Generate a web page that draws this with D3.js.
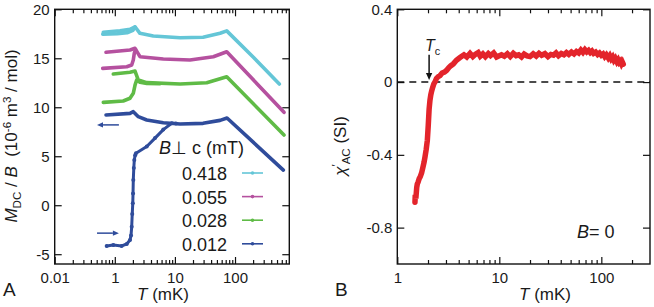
<!DOCTYPE html>
<html>
<head>
<meta charset="utf-8">
<script src="https://cdn.jsdelivr.net/npm/d3@7"></script>
<style>
  html, body { margin: 0; padding: 0; background: #fff; }
  svg { display: block; font-family: "Liberation Sans", Arial, Helvetica, sans-serif; }
  .tick text { font-size: 15px; font-family: "Liberation Sans", Arial, sans-serif; fill: #1a1a1a; }
  .tick line { stroke: #111; stroke-width: 1.2; }
</style>
</head>
<body>
<svg id="chart" width="654" height="307"></svg>
<script>
/* Two panels: A = M_DC/B vs T for four fields, B = chi'_AC vs T at B = 0 */

// --- Panel A data: [T (mK), M_DC/B (1e-6 m3/mol)] ---
const fieldLabels = ["0.418", "0.055", "0.028", "0.012"];
const fieldColors = ["#64c6d7", "#b5519f", "#5fbb46", "#2f4c9b"];

const fc418 = [[0.644,17.65],[1.22,17.81],[1.79,17.95],[2.17,18.22],[2.62,17.55],[4.37,17.27],[12.2,17.1],[29.4,17.14],[56.4,17.55],[72.8,17.8],[202,15.1],[546,12.37]];
const zfc418 = [[0.63,17.45],[1.1,17.5],[1.6,17.6],[2.0,17.85],[2.17,18.2]];

const fc055 = [[0.714,15.61],[1.79,15.84],[2.17,16.02],[2.62,15.16],[6.41,14.93],[17.8,14.83],[43.6,15.16],[72.8,15.67],[653,9.48]];
const zfc055 = [[0.629,13.97],[1.58,14.14],[1.91,14.31],[2.03,14.82],[2.11,15.51],[2.21,15.9]];

const fc028 = [[0.944,13.39],[1.79,13.57],[2.17,13.7],[2.46,12.78],[3.4,12.51],[12.2,12.37],[33.8,12.51],[72.8,13.12],[653,7.17]];
const zfc028 = [[0.644,10.5],[1.38,10.64],[1.79,10.92],[2.03,11.42],[2.17,12.26],[2.31,12.78],[2.62,12.55],[3.4,12.44],[5.65,12.4]];

const fc012 = [[0.714,9.21],[1.79,9.38],[2.03,9.55],[2.46,9.04],[3.4,8.7],[6.41,8.42],[12.2,8.29],[29.4,8.36],[56.4,8.66],[73.6,8.9],[637,3.59]];
const zfc012 = [[0.733,-4.16],[0.944,-4.06],[1.3,-4.16],[1.58,-3.96],[1.79,-3.55],[1.86,-3.1],[1.91,-2.2],[1.95,-0.9],[1.99,0.19],[2.01,1.2],[2.03,2.57],[2.07,3.8],[2.11,4.61],[2.18,5.1],[2.25,5.31],[3.4,5.99],[4.67,6.85],[6.41,7.72],[8.85,8.36],[10.4,8.33]];

// draw order and colour index of each branch
const branchesA = [
    { data: zfc418, c: 0 }, { data: fc418, c: 0 },
    { data: zfc055, c: 1 }, { data: fc055, c: 1 },
    { data: zfc028, c: 2 }, { data: fc028, c: 2 },
    { data: fc012, c: 3 }, { data: zfc012, c: 3, dots: true }
];

// cooling / warming arrows, [T from, T to, M/B]
const arrowsA = [[1.17, 0.506, 8.2], [0.506, 1.17, -2.85]];

const xTickValsA = [0.1, 1, 10, 100];
const xTickLabelsA = ["0.01", "1", "10", "100"];
const yTicksA = [-5, 0, 5, 10, 15, 20];

// --- Panel B data: chi'_AC (SI) vs T (mK) ---
const chiT = [1.49,1.5,1.52,1.55,1.57,1.6,1.64,1.68,1.73,1.78,1.83,1.87,1.92,1.97,2.01,2.05,2.09,2.13,2.17,2.22,2.28,2.34,2.42,2.52,2.62,2.75,2.9,3.05,3.2,3.35,3.54,3.8,4.12,4.5,4.8,5.16,5.5,5.8,6.2,6.5,6.9,7.3,7.8,8.2,8.8,9.4,10.5,11.2,12,12.8,13.7,14.6,15.5,16.5,17.5,18.7,20,21.5,23,24.5,26,28,30,32,34,36,38,40.5,43,45.5,48,51,54,57,60,63,66,69,72,75,78,81,84,88,92,96,100,104,108,112,117,121,125,129,133,137,142,146,150,154,158,161,164];
const chiVal = [-0.66,-0.62,-0.64,-0.58,-0.56,-0.55,-0.53,-0.52,-0.5,-0.47,-0.44,-0.41,-0.37,-0.32,-0.24,-0.15,-0.1,-0.07,-0.05,-0.03,-0.01,0,0.02,0.03,0.035,0.05,0.055,0.065,0.08,0.09,0.1,0.12,0.135,0.15,0.138,0.158,0.14,0.152,0.162,0.142,0.155,0.14,0.157,0.146,0.16,0.138,0.15,0.142,0.156,0.14,0.158,0.145,0.15,0.138,0.154,0.144,0.14,0.155,0.143,0.158,0.147,0.156,0.14,0.152,0.148,0.16,0.145,0.157,0.15,0.162,0.152,0.165,0.155,0.168,0.16,0.176,0.163,0.178,0.166,0.174,0.162,0.17,0.158,0.165,0.152,0.16,0.148,0.155,0.14,0.15,0.133,0.145,0.128,0.138,0.12,0.13,0.112,0.122,0.108,0.115,0.1,0.108,0.098];

const xTickValsB = [1, 10, 100];
const xTickLabelsB = ["1", "10", "100"];
const yTicksB = [-0.8, -0.4, 0, 0.4];
const tcArrow = [2.05, 0.15, 0.012];   // T, chi start, chi tip

// --- Scales ---
const xA = d3.scaleLog().domain([0.1, 800]).range([54.7, 289.3]);
const yA = d3.scaleLinear().domain([-6, 20]).range([264, 9.3]);
const xB = d3.scaleLog().domain([1, 300]).range([397.3, 650]);
const yB = d3.scaleLinear().domain([-1.0, 0.4]).range([264, 9.3]);

const svg = d3.select('#chart');

// --- Helpers ---
function minorTicks(x) {
    const [lo, hi] = x.domain();
    const out = [];
    for (let d = Math.pow(10, Math.floor(Math.log10(lo))); d < hi; d *= 10) {
        for (let k = 2; k <= 9; k++) {
            const v = d * k;
            if (v > lo && v < hi) out.push(v);
        }
    }
    return out;
}

function drawFrame(g, x, y, xVals, xLabels, yVals, yFmt) {
    const [xl, xr] = x.range();
    const [yb, yt] = y.range();
    const minor = minorTicks(x);

    g.append('g').attr('transform', `translate(0,${yb})`)
        .call(d3.axisBottom(x).tickValues(xVals).tickSize(-7).tickPadding(8).tickFormat((d, i) => xLabels[i]));
    g.append('g').attr('transform', `translate(0,${yb})`)
        .call(d3.axisBottom(x).tickValues(minor).tickSize(-4).tickFormat(''));
    g.append('g').attr('transform', `translate(0,${yt})`)
        .call(d3.axisTop(x).tickValues(xVals).tickSize(-7).tickFormat(''));
    g.append('g').attr('transform', `translate(0,${yt})`)
        .call(d3.axisTop(x).tickValues(minor).tickSize(-4).tickFormat(''));
    g.append('g').attr('transform', `translate(${xl},0)`)
        .call(d3.axisLeft(y).tickValues(yVals).tickSize(-7).tickPadding(5).tickFormat(yFmt));
    g.append('g').attr('transform', `translate(${xr},0)`)
        .call(d3.axisRight(y).tickValues(yVals).tickSize(-7).tickFormat(''));
    g.selectAll('.domain').remove();

    g.append('rect')
        .attr('x', xl).attr('y', yt)
        .attr('width', xr - xl).attr('height', yb - yt)
        .attr('fill', 'none').attr('stroke', '#111').attr('stroke-width', 1.4);
}

// parts: [text, style] where style is 'i' italic, 'sub', 'sup' or ''
function richText(sel, parts) {
    let shift = 0;
    parts.forEach(([t, s]) => {
        const ts = sel.append('tspan').text(t);
        let target = 0;
        if (s === 'sub') target = 4;
        if (s === 'sup') target = -6;
        if (s === 'sub' || s === 'sup') ts.attr('font-size', '0.68em');
        if (s === 'i') ts.attr('font-style', 'italic');
        if (target !== shift) { ts.attr('dy', target - shift); shift = target; }
    });
    return sel;
}

function arrow(g, x0, y0, x1, y1, color, head) {
    const ang = Math.atan2(y1 - y0, x1 - x0);
    const bx = x1 - head * Math.cos(ang), by = y1 - head * Math.sin(ang);
    const w = head * 0.45;
    g.append('line')
        .attr('x1', x0).attr('y1', y0).attr('x2', bx).attr('y2', by)
        .attr('stroke', color).attr('stroke-width', 1.5);
    g.append('path')
        .attr('d', `M${x1},${y1}L${bx - w * Math.sin(ang)},${by + w * Math.cos(ang)}L${bx + w * Math.sin(ang)},${by - w * Math.cos(ang)}Z`)
        .attr('fill', color);
}

// --- Panel A ---
const gA = svg.append('g');
drawFrame(gA, xA, yA, xTickValsA, xTickLabelsA, yTicksA, d => String(d));

const lineA = d3.line().x(d => xA(d[0])).y(d => yA(d[1]));

branchesA.forEach(b => {
    gA.append('path')
        .attr('d', lineA(b.data))
        .attr('fill', 'none')
        .attr('stroke', fieldColors[b.c])
        .attr('stroke-width', b.dots ? 3 : 3.6)
        .attr('stroke-linejoin', 'round')
        .attr('stroke-linecap', 'round');
    if (b.dots) {
        gA.append('g').selectAll('circle')
            .data(b.data)
            .join('circle')
            .attr('cx', d => xA(d[0]))
            .attr('cy', d => yA(d[1]))
            .attr('r', 2)
            .attr('fill', fieldColors[b.c]);
    }
});

arrowsA.forEach(([t0, t1, m]) => arrow(gA, xA(t0), yA(m), xA(t1), yA(m), fieldColors[3], 6));

// legend
const leg = gA.append('g').attr('font-size', 18).attr('fill', '#1a1a1a');
richText(leg.append('text').attr('x', 159).attr('y', 154), [['B', 'i'], ['\u22A5 c (mT)', '']]);
fieldLabels.forEach((lab, i) => {
    const yy = 173 + i * 23.6;
    leg.append('text').attr('x', 227).attr('y', yy + 7).attr('text-anchor', 'end').text(lab);
    leg.append('line')
        .attr('x1', 242).attr('x2', 263).attr('y1', yy).attr('y2', yy)
        .attr('stroke', fieldColors[i]).attr('stroke-width', 1.6);
    leg.append('circle').attr('cx', 252.5).attr('cy', yy).attr('r', 1.8).attr('fill', fieldColors[i]);
});

// axis titles
richText(svg.append('text')
    .attr('transform', 'translate(17,136) rotate(-90)')
    .attr('text-anchor', 'middle').attr('font-size', 17).attr('fill', '#1a1a1a'),
    [['M', 'i'], ['DC', 'sub'], [' / ', ''], ['B', 'i'], ['\u00A0 (10', ''], ['-6', 'sup'], [' m', ''], ['3', 'sup'], [' / mol)', '']]);

richText(svg.append('text').attr('x', 163).attr('y', 300)
    .attr('text-anchor', 'middle').attr('font-size', 17).attr('fill', '#1a1a1a'),
    [['T', 'i'], [' (mK)', '']]);

svg.append('text').attr('x', 3).attr('y', 296).attr('font-size', 19).attr('fill', '#1a1a1a').text('A');

// --- Panel B ---
const gB = svg.append('g');
drawFrame(gB, xB, yB, xTickValsB, xTickLabelsB, yTicksB, d => String(d));

gB.append('line')
    .attr('x1', xB.range()[0]).attr('x2', xB.range()[1])
    .attr('y1', yB(0)).attr('y2', yB(0))
    .attr('stroke', '#111').attr('stroke-width', 1.4)
    .attr('stroke-dasharray', '7,5');

const lineB = d3.line().x((d, i) => xB(chiT[i])).y(d => yB(d));
gB.append('path')
    .attr('d', lineB(chiVal))
    .attr('fill', 'none')
    .attr('stroke', '#e3242b')
    .attr('stroke-width', 5.5)
    .attr('stroke-linejoin', 'miter')
    .attr('stroke-linecap', 'round');

// Tc marker
arrow(gB, xB(tcArrow[0]), yB(tcArrow[1]), xB(tcArrow[0]), yB(tcArrow[2]), '#111', 7);
richText(gB.append('text').attr('x', 425).attr('y', 51).attr('font-size', 16).attr('fill', '#1a1a1a'),
    [['T', 'i'], ['c', 'sub']]);

richText(gB.append('text').attr('x', 577).attr('y', 238).attr('font-size', 18).attr('fill', '#1a1a1a'),
    [['B', 'i'], ['= 0', '']]);

richText(svg.append('text')
    .attr('transform', 'translate(346,146) rotate(-90)')
    .attr('text-anchor', 'middle').attr('font-size', 17).attr('fill', '#1a1a1a'),
    [['\u03C7', 'i'], ['\u2032', 'sup'], ['AC', 'sub'], [' (SI)', '']]);

richText(svg.append('text').attr('x', 545).attr('y', 300)
    .attr('text-anchor', 'middle').attr('font-size', 17).attr('fill', '#1a1a1a'),
    [['T', 'i'], [' (mK)', '']]);

svg.append('text').attr('x', 335).attr('y', 296).attr('font-size', 19).attr('fill', '#1a1a1a').text('B');
</script>
</body>
</html>
